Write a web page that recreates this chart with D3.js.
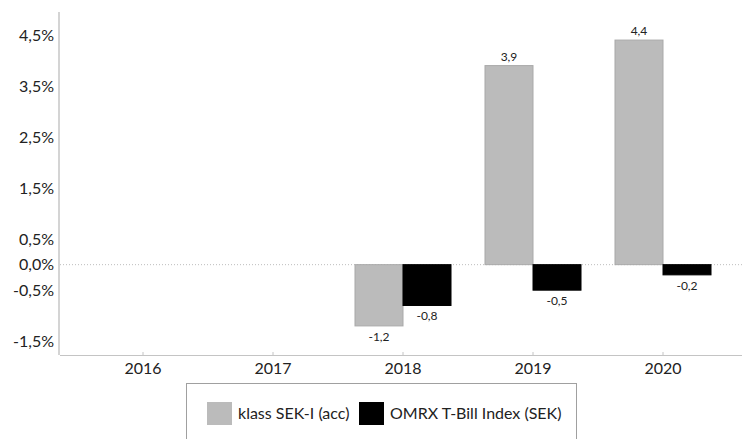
<!DOCTYPE html>
<html>
<head>
<meta charset="utf-8">
<script src="https://cdn.jsdelivr.net/npm/d3@7"></script>
<style>
  body { margin:0; background:#fff; }
  svg { display:block; font-family:Lato, "Open Sans", sans-serif; }
</style>
</head>
<body>
<svg></svg>
<script>
// chart values
var years = ["2016","2017","2018","2019","2020"];
var seriesNames = ["klass SEK-I (acc)","OMRX T-Bill Index (SEK)"];
var fundValues = [null,null,-1.2,3.9,4.4];
var indexValues = [null,null,-0.8,-0.5,-0.2];
var yTicks = [4.5,3.5,2.5,1.5,0.5,0,-0.5,-1.5];
var colors = ["#bbbbbb","#000000"];

var screen = {width:742,height:439}
var svg = d3.select("svg")
    .attr("width",screen.width)
    .attr("height",screen.height)

//comma decimals and a plain hyphen for negatives
var fmt = function(v,dec)
{
    return d3.format("."+dec+"f")(v).replace(".",",").replace("\u2212","-");
}

var xScale = d3.scaleBand()
    .domain(years)
    .range([78,728])
    .paddingInner(0)
    .paddingOuter(0)

var subScale = d3.scaleBand()
    .domain([0,1])
    .range([0,xScale.bandwidth()])
    .paddingInner(0)
    .paddingOuter(0.354)

var yScale = d3.scaleLinear()
    .domain([-1.77,4.95])
    .range([355,12])

// axes lines
svg.append("line")
    .attr("x1",59).attr("x2",59)
    .attr("y1",yScale(4.95)).attr("y2",yScale(-1.77))
    .attr("stroke","#d4d4d4").attr("stroke-width",2)

svg.append("line")
    .attr("x1",60).attr("x2",742)
    .attr("y1",yScale(0)).attr("y2",yScale(0))
    .attr("stroke","#bdbdbd").attr("stroke-width",1)
    .attr("stroke-dasharray","1,2")

var yAxis = d3.axisLeft(yScale)
    .tickValues(yTicks)
    .tickSize(0)
    .tickPadding(4)
    .tickFormat(function(d){ return fmt(d,1)+"%"; })

svg.append("g")
    .attr("transform","translate(58,0)")
    .call(yAxis)
    .call(function(g){ g.select(".domain").remove(); })
    .selectAll("text")
    .attr("font-size",16)
    .attr("font-family","Lato, sans-serif")
    .attr("fill","#222")

var xAxis = d3.axisBottom(xScale)
    .tickSizeInner(-3)
    .tickSizeOuter(0)
    .tickPadding(8)

var xg = svg.append("g")
    .attr("transform","translate(0,"+yScale(-1.77)+")")
    .call(xAxis)
xg.select(".domain").remove()
xg.insert("line",":first-child")
    .attr("x1",60).attr("x2",742)
    .attr("y1",0.5).attr("y2",0.5)
    .attr("stroke","#c4c4c4")
xg.selectAll(".tick line").attr("stroke","#c4c4c4")
xg.selectAll("text")
    .attr("font-size",16)
    .attr("font-family","Lato, sans-serif")
    .attr("fill","#222")

// bars
var seriesData = [fundValues,indexValues];
seriesData.forEach(function(vals,si)
{
    var pts = years.map(function(y,i){ return {year:y,value:vals[i]}; })
        .filter(function(p){ return p.value!==null; });

    svg.append("g").selectAll("rect")
        .data(pts)
        .enter()
        .append("rect")
        .attr("x",function(p){ return xScale(p.year)+subScale(si); })
        .attr("width",subScale.bandwidth())
        .attr("y",function(p){ return yScale(Math.max(0,p.value)); })
        .attr("height",function(p){ return Math.abs(yScale(p.value)-yScale(0)); })
        .attr("fill",colors[si])
        .attr("stroke",si==0?"#a9a9a9":"#000")
        .attr("stroke-width",1)

    svg.append("g").selectAll("text")
        .data(pts)
        .enter()
        .append("text")
        .text(function(p){ return fmt(p.value,1); })
        .attr("x",function(p){ return xScale(p.year)+subScale(si)+subScale.bandwidth()/2; })
        .attr("y",function(p){ return p.value>=0 ? yScale(p.value)-5 : yScale(p.value)+15; })
        .attr("text-anchor","middle")
        .attr("font-size",12)
        .attr("fill","#222")
})

// legend
svg.append("rect")
    .attr("x",186.5).attr("y",383.5)
    .attr("width",390).attr("height",70)
    .attr("fill","none").attr("stroke","#a0a0a0")

var legendX = [207,359];
var entries = svg.selectAll(".legendEntry")
    .data(seriesNames)
    .enter()
    .append("g")
    .classed("legendEntry",true)
    .attr("transform",function(d,i){ return "translate("+legendX[i]+",402)"; })

entries.append("rect")
    .attr("width",25).attr("height",23)
    .attr("fill",function(d,i){ return colors[i]; })

entries.append("text")
    .text(function(d){ return d; })
    .attr("x",31)
    .attr("y",17)
    .attr("font-size",16)
    .attr("fill","#222")
</script>
</body>
</html>
